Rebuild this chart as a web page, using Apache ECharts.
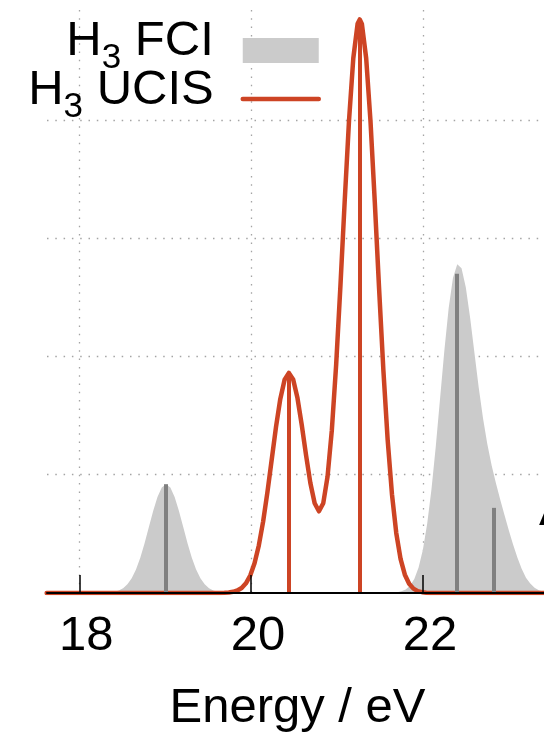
<!DOCTYPE html>
<html>
<head>
<meta charset="utf-8">
<script src="https://cdn.jsdelivr.net/npm/echarts@6/dist/echarts.min.js"></script>
<style>
html,body{margin:0;padding:0;background:#fff;}
#chart{width:544px;height:732px;}
</style>
</head>
<body>
<div id="chart"></div>
<script>
// ---- data ----
const xTicks = [18, 20, 22];

// H3 FCI broadened spectrum (energy in eV, intensity)
const fciEnergy = [17.62,
  18.26, 18.31, 18.36, 18.41, 18.46, 18.51, 18.56, 18.61, 18.66, 18.71, 18.76, 18.81, 18.86, 18.91, 18.96,
  19.01, 19.06, 19.11, 19.16, 19.21, 19.26, 19.31, 19.36, 19.41, 19.46, 19.51, 19.56, 19.61, 19.66, 19.71, 19.76,
  21.60, 21.65, 21.70, 21.75, 21.80, 21.85, 21.90, 21.95, 22.00, 22.05, 22.10, 22.15, 22.20, 22.25, 22.30, 22.35,
  22.40, 22.45, 22.50, 22.55, 22.60, 22.65, 22.70, 22.75, 22.80, 22.85, 22.90, 22.95, 23.00, 23.05, 23.10, 23.15,
  23.20, 23.25, 23.30, 23.35, 23.40, 23.45, 23.50];
const fciIntensity = [0,
  0.001, 0.002, 0.005, 0.010, 0.021, 0.040, 0.073, 0.124, 0.199, 0.299, 0.421, 0.558, 0.694, 0.812, 0.892,
  0.920, 0.892, 0.812, 0.694, 0.558, 0.421, 0.299, 0.199, 0.124, 0.073, 0.040, 0.021, 0.010, 0.005, 0.002, 0.001,
  0.001, 0.002, 0.006, 0.014, 0.030, 0.062, 0.119, 0.215, 0.365, 0.585, 0.878, 1.239, 1.644, 2.050, 2.408, 2.663,
  2.779, 2.747, 2.583, 2.327, 2.031, 1.738, 1.478, 1.261, 1.081, 0.930, 0.790, 0.660, 0.530, 0.410, 0.300, 0.205,
  0.130, 0.080, 0.045, 0.024, 0.012, 0.005, 0.002];

// H3 UCIS broadened spectrum
const ucisEnergy = [17.62,
  19.64, 19.69, 19.74, 19.79, 19.84, 19.89, 19.94, 19.99, 20.04, 20.09, 20.14, 20.19, 20.24, 20.29, 20.34, 20.39,
  20.44, 20.49, 20.54, 20.59, 20.64, 20.69, 20.74, 20.79, 20.84, 20.89, 20.94, 20.99, 21.04, 21.09, 21.14, 21.19,
  21.24, 21.265, 21.29, 21.34, 21.39, 21.44, 21.49, 21.54, 21.59, 21.64, 21.69, 21.74, 21.79, 21.84, 21.89, 21.94,
  21.99, 22.04, 22.09, 23.50];
const ucisIntensity = [0,
  0.001, 0.002, 0.004, 0.010, 0.021, 0.042, 0.082, 0.148, 0.252, 0.402, 0.604, 0.852, 1.128, 1.404, 1.641, 1.803,
  1.861, 1.806, 1.648, 1.420, 1.165, 0.930, 0.759, 0.691, 0.759, 0.984, 1.377, 1.927, 2.597, 3.317, 3.994, 4.523,
  4.813, 4.850, 4.812, 4.521, 3.990, 3.307, 2.576, 1.885, 1.295, 0.836, 0.507, 0.289, 0.155, 0.078, 0.037, 0.016,
  0.007, 0.003, 0.001, 0];

// stick transitions
const fciStickEnergy = [19.01, 22.40, 22.82];
const fciStickHeight = [0.92, 2.70, 0.72];
const ucisStickEnergy = [20.44, 21.265];
const ucisStickHeight = [1.86, 4.85];

const seriesNames = ['H3 FCI', 'H3 UCIS'];

// ---- chart ----
const FONT = '"Liberation Sans", Arial, Helvetica, sans-serif';
const RED = '#cd4424';
const GRAY = '#cbcbcb';
const STICK_GRAY = '#808080';

function zip(xs, ys) { return xs.map((x, i) => [x, ys[i]]); }
function sticks(xs, hs) { return xs.map((x, i) => [{ coord: [x, 0] }, { coord: [x, hs[i]] }]); }

const gridDots = { color: '#a4a4a4', width: 1.3, type: [1.5, 6.8] };

const chart = echarts.init(document.getElementById('chart'), null, { renderer: 'canvas' });
chart.setOption({
  animation: false,
  backgroundColor: '#ffffff',
  grid: { left: 47, right: 0, top: 10, bottom: 139, containLabel: false, outerBoundsMode: 'none' },
  legend: {
    orient: 'vertical',
    align: 'right',
    right: 223,
    top: 17,
    padding: 0,
    itemGap: -18.5,
    itemWidth: 76,
    itemHeight: 25,
    selectedMode: false,
    data: [
      { name: seriesNames[0], icon: 'rect', itemStyle: { color: GRAY } },
      { name: seriesNames[1], itemStyle: { opacity: 0 }, lineStyle: { color: RED, width: 4.5 } }
    ],
    formatter: function (name) {
      return '{h|H}{s|3}{e|' + name.slice(2) + '}';
    },
    textStyle: {
      color: '#000',
      fontFamily: FONT,
      rich: {
        h: { fontSize: 49, fontFamily: FONT, color: '#000', lineHeight: 20, padding: [0, 0, 18, 0] },
        s: { fontSize: 35, fontFamily: FONT, color: '#000', lineHeight: 20, padding: [16, 0, 0, 0] },
        e: { fontSize: 49, fontFamily: FONT, color: '#000', lineHeight: 20, padding: [0, 24, 18, 0] }
      }
    }
  },
  xAxis: [
    {
      type: 'value',
      position: 'bottom',
      min: 17.624,
      max: 23.41,
      axisLine: { show: false },
      axisTick: { show: false, customValues: xTicks },
      axisLabel: {
        customValues: xTicks,
        fontSize: 49,
        fontFamily: FONT,
        color: '#000',
        margin: 19,
        padding: [0, 0, 0, 14]
      },
      splitLine: { show: true, lineStyle: gridDots },
      name: 'Energy / eV',
      nameLocation: 'middle',
      nameGap: 91,
      nameTextStyle: { fontSize: 49, fontFamily: FONT, color: '#000', padding: [0, 0, 0, 4] }
    },
    {
      type: 'value',
      position: 'bottom',
      min: 17.624,
      max: 23.41,
      z: 10,
      axisLine: { show: true, lineStyle: { color: '#000', width: 2 } },
      axisTick: { show: true, inside: true, length: 18, customValues: xTicks, lineStyle: { color: '#000', width: 1.5 } },
      axisLabel: { show: false },
      splitLine: { show: false }
    }
  ],
  yAxis: {
    type: 'value',
    min: 0,
    max: 4.93,
    interval: 1,
    axisLine: { show: false },
    axisTick: { show: false },
    axisLabel: { show: false },
    splitLine: { show: true, lineStyle: gridDots, showMinLine: false, showMaxLine: false }
  },
  graphic: [
    { type: 'text', left: 539, top: 487, z: 1,
      style: { text: 'A', font: '49px ' + FONT, fill: '#000' } }
  ],
  series: [
    {
      name: seriesNames[0],
      type: 'line',
      xAxisIndex: 0,
      data: zip(fciEnergy, fciIntensity),
      showSymbol: false,
      symbol: 'none',
      smooth: false,
      color: GRAY,
      itemStyle: { color: GRAY },
      lineStyle: { width: 0, color: GRAY },
      areaStyle: { color: GRAY, opacity: 1 },
      z: 1,
      markLine: {
        silent: true,
        symbol: ['none', 'none'],
        label: { show: false },
        lineStyle: { color: STICK_GRAY, width: 4, type: 'solid' },
        data: sticks(fciStickEnergy, fciStickHeight)
      }
    },
    {
      name: seriesNames[1],
      type: 'line',
      xAxisIndex: 0,
      data: zip(ucisEnergy, ucisIntensity),
      showSymbol: false,
      symbol: 'none',
      smooth: false,
      color: RED,
      itemStyle: { color: RED },
      lineStyle: { width: 4.5, color: RED, join: 'round', cap: 'round' },
      z: 3,
      markLine: {
        silent: true,
        symbol: ['none', 'none'],
        label: { show: false },
        lineStyle: { color: RED, width: 4, type: 'solid' },
        data: sticks(ucisStickEnergy, ucisStickHeight)
      }
    }
  ]
});
</script>
</body>
</html>
